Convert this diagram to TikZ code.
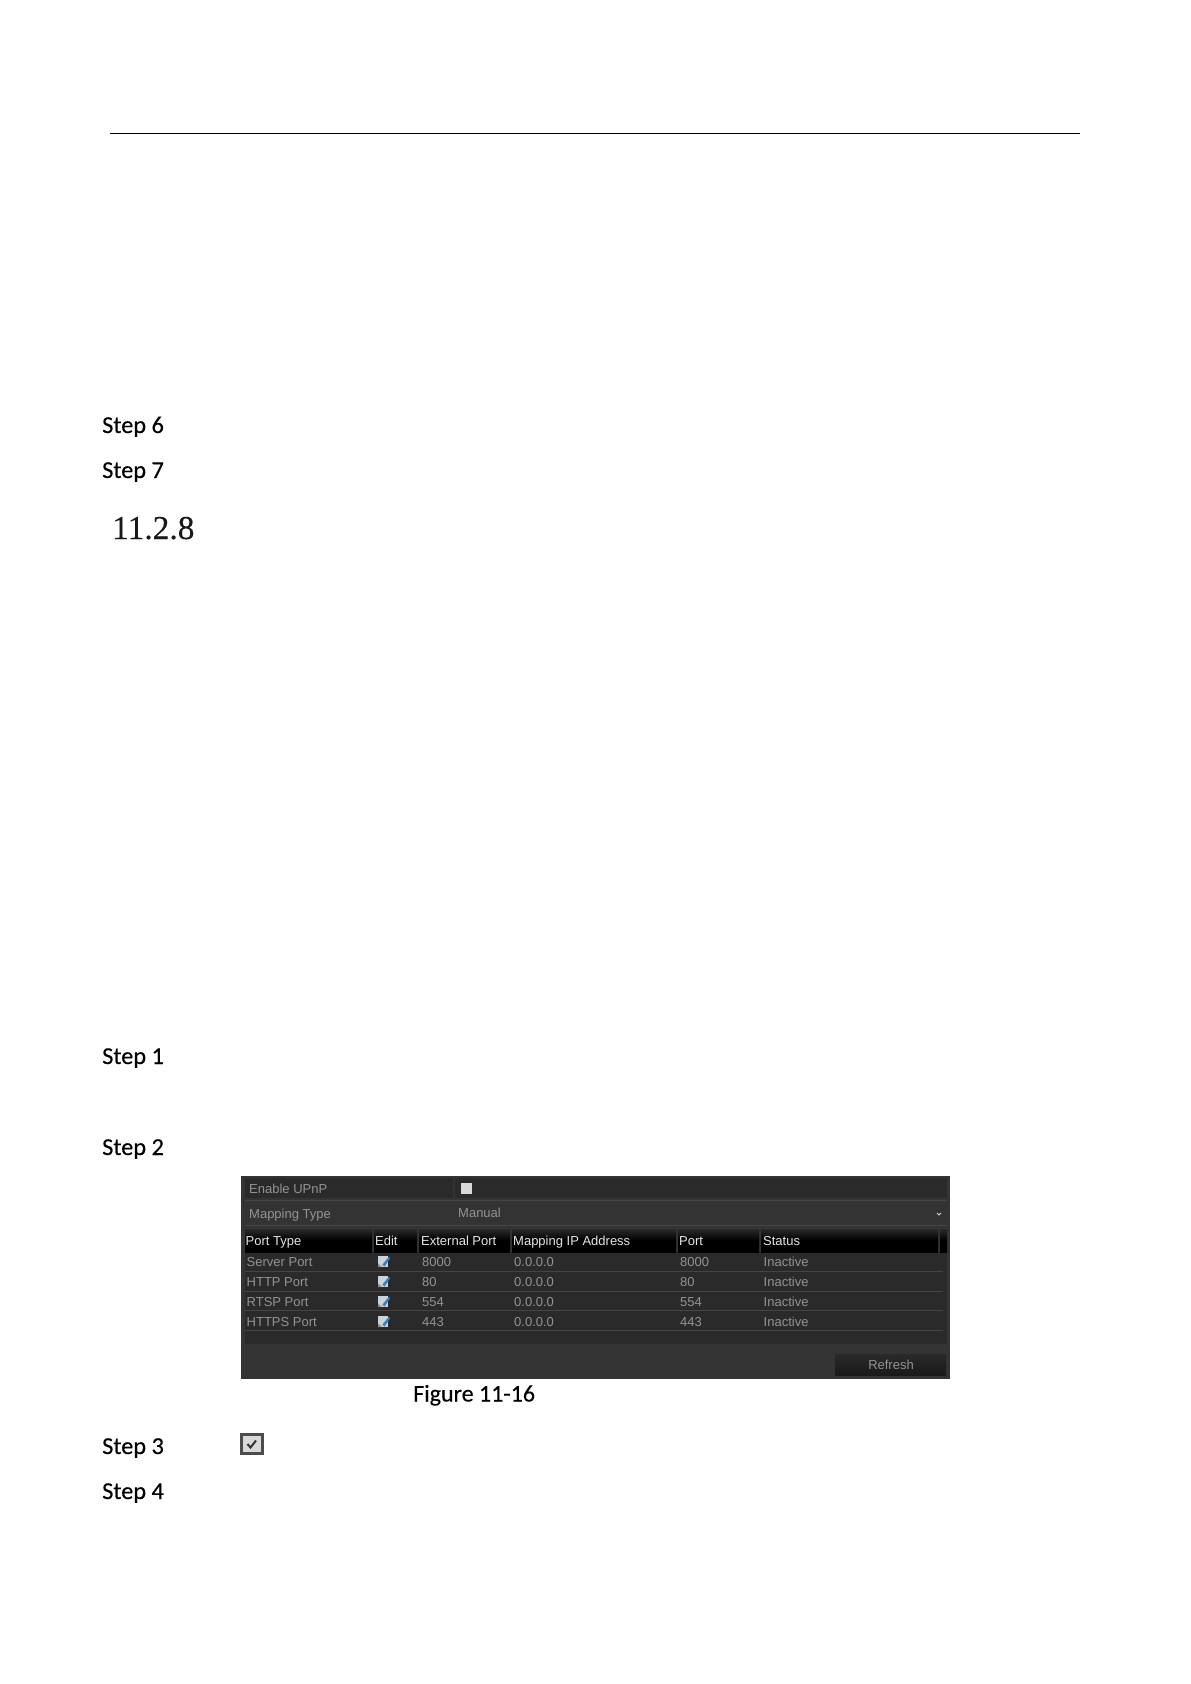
\documentclass[tikz,border=0pt]{standalone}
\usepackage{fontspec}
\setmainfont{Liberation Sans}
\newfontfamily\stepfont[FakeBold=0.25]{Carlito}
\newfontfamily\headfont[FakeBold=0.2]{Liberation Serif}
\definecolor{panel}{HTML}{343434}
\definecolor{rowdark}{HTML}{2A2A2A}
\definecolor{rowlite}{HTML}{333333}
\definecolor{sepline}{HTML}{444444}
\definecolor{dimtext}{HTML}{939393}
\definecolor{headtext}{HTML}{E4E4E4}
\definecolor{iconpage}{HTML}{C9D3DC}
\definecolor{iconpen}{HTML}{3F7FB5}
\tikzset{
  x=1pt,y=-1pt,
  stepnode/.style={anchor=base west,inner sep=0pt,font=\stepfont\fontsize{24.3}{24}\selectfont,text=black},
  figcap/.style={anchor=base west,inner sep=0pt,font=\stepfont\fontsize{24}{24}\selectfont,text=black},
  secnode/.style={anchor=base west,inner sep=0pt,font=\headfont\fontsize{33.4}{33}\selectfont,text=black!90},
  uidim/.style={anchor=base west,inner sep=0pt,font=\fontsize{13}{13}\selectfont,text=dimtext},
  uihead/.style={anchor=base west,inner sep=0pt,font=\fontsize{13}{13}\selectfont,text=headtext},
}
\newcommand{\editicon}[1]{%
  \fill[iconpage] (378,#1-6) rectangle (388,#1+5);
  \fill[iconpen] (382.5,#1+2.5) -- (389,#1-5.5) -- (390,#1-3.5) -- (384.5,#1+4.5) -- cycle;
  \fill[black!45] (378,#1+1.5) -- (382,#1+5) -- (378,#1+5) -- cycle;
}
\begin{document}
\begin{tikzpicture}
\useasboundingbox (0,0) rectangle (1191,1684);
\fill[white] (0,0) rectangle (1191,1684);
\coordinate (ruleL) at (110,133);
\coordinate (ruleR) at (1080,133);
\draw[line width=1pt,black] (ruleL) -- (ruleR);

\node[stepnode] (s6) at (102,433) {Step 6};
\node[stepnode] (s7) at (102,478) {Step 7};
\node[secnode] (sec) at (112,539) {11.2.8};
\node[stepnode] (s1) at (102,1064) {Step 1};
\node[stepnode] (s2) at (102,1155) {Step 2};
\node[stepnode] (s3) at (102,1454) {Step 3};
\node[stepnode] (s4) at (102,1499) {Step 4};
\node[figcap] (fig) at (413,1401.5) {Figure 11-16};

% screenshot panel
\fill[panel] (241,1176) rectangle (950,1379);
\fill[rowdark] (245,1178) rectangle (453,1198);
\fill[rowdark] (455,1178) rectangle (947,1198);
\fill[rowlite] (245,1203) rectangle (453,1223);
\fill[rowlite] (455,1203) rectangle (947,1223);
\draw[sepline] (245,1200.5) -- (947,1200.5);
\draw[sepline] (245,1225.5) -- (947,1225.5);
\node[uidim] (enable) at (249,1193) {Enable UPnP};
\node[uidim] (maptype) at (249,1218) {Mapping Type};
\node[uidim] (manual) at (458,1217.5) {Manual};
\fill[black!15] (460.5,1183) rectangle (472,1194);
\draw[black!15,line width=0.9pt] (937,1213) -- (939,1215) -- (941,1213);

% table body
\fill[rowdark] (245,1252) rectangle (947,1344);
\foreach \yy in {1271,1291,1310.5,1330.5} \draw[sepline,line width=1pt] (245,\yy) -- (943,\yy);

% table header
\foreach \xa/\xb in {245/372,374/417,419/510,512/676,678/759,761/938,940/947}
  \shade[top color=rowdark,bottom color=black,middle color=black] (\xa,1229) rectangle (\xb,1252);
\node[uihead] (h1) at (245.5,1245) {Port Type};
\node[uihead] (h2) at (375,1245) {Edit};
\node[uihead] (h3) at (421,1245) {External Port};
\node[uihead] (h4) at (513,1245) {Mapping IP Address};
\node[uihead] (h5) at (679,1245) {Port};
\node[uihead] (h6) at (763,1245) {Status};

% rows
\node[uidim] (a1) at (246.5,1266) {Server Port};
\node[uidim] (a2) at (246.5,1286) {HTTP Port};
\node[uidim] (a3) at (246.5,1306) {RTSP Port};
\node[uidim] (a4) at (246.5,1326) {HTTPS Port};
\editicon{1262}\editicon{1282}\editicon{1302}\editicon{1322}
\foreach \yy/\ext/\nm in {1266/8000/b1,1286/80/b2,1306/554/b3,1326/443/b4}{
  \node[uidim] (\nm) at (422,\yy) {\ext};
  \node[uidim] (ip\nm) at (514,\yy) {0.0.0.0};
  \node[uidim] (pt\nm) at (680,\yy) {\ext};
  \node[uidim] (st\nm) at (763.5,\yy) {Inactive};
}

% refresh button
\shade[top color=panel!80!black,bottom color=black!90] (835,1354) rectangle (946,1375);
\node[uidim,anchor=base] (refresh) at (891,1369) {Refresh};

% check icon
\fill[black!70] (240,1433) rectangle (264,1455);
\fill[black!15] (243,1436) rectangle (261,1452);
\draw[black!80,line width=2pt] (247.5,1444) -- (250.5,1447.5) -- (256,1440.5);
\end{tikzpicture}
\end{document}
